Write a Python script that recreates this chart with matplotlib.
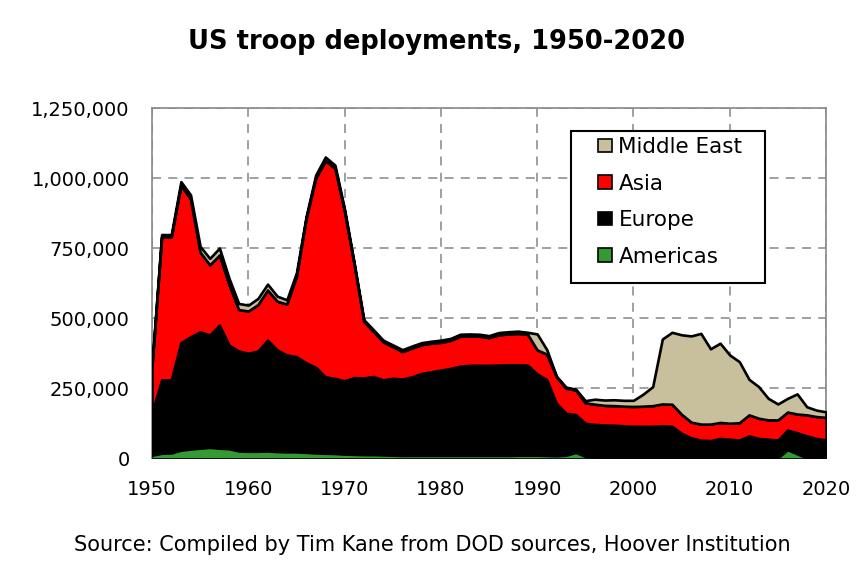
import numpy as np
import matplotlib
matplotlib.use('Agg')
import matplotlib.pyplot as plt
from matplotlib.patches import Rectangle

years = list(range(1950, 2021))

# troops, thousands
americas = [10, 17, 18, 28, 32, 35, 38, 35, 33, 25,
            24, 24, 25, 23, 22, 22, 20, 18, 17, 16,
            14, 13, 12, 12, 11, 10, 9, 9, 9, 9,
            9, 9, 9, 9, 9, 9, 9, 9, 10, 10,
            10, 9, 8, 10, 20, 6, 3, 2, 2, 2,
            2, 2, 2, 2, 2, 2, 2, 2, 2, 2,
            2, 2, 2, 2, 2, 1, 30, 15, 1, 1,
            1]
europe = [152, 262, 261, 384, 401, 416, 401, 440, 370, 357,
          350, 358, 396, 363, 346, 340, 320, 306, 273, 268,
          262, 274, 274, 279, 268, 275, 273, 281, 293, 299,
          305, 311, 319, 322, 322, 322, 323, 324, 323, 322,
          290, 271, 187, 150, 135, 118, 117, 116, 115, 113,
          111, 111, 111, 113, 111, 86, 70, 62, 60, 68,
          65, 62, 77, 68, 65, 63, 70, 75, 78, 69,
          63]
asia = [168, 511, 511, 563, 492, 284, 251, 250, 217, 148,
        151, 166, 179, 174, 182, 288, 515, 676, 772, 751,
        604, 403, 202, 161, 136, 113, 98, 103, 103, 102,
        99, 100, 107, 105, 104, 99, 108, 110, 112, 110,
        86, 91, 95, 89, 88, 73, 72, 70, 70, 70,
        71, 72, 74, 78, 79, 68, 56, 57, 59, 57,
        57, 62, 75, 72, 69, 72, 64, 67, 75, 78,
        81]
middle_east = [5, 8, 8, 12, 15, 21, 23, 25, 22, 22,
               21, 22, 21, 18, 15, 12, 7, 11, 13, 11,
               8, 6, 6, 6, 6, 6, 7, 7, 7, 7,
               8, 7, 7, 7, 7, 7, 8, 8, 8, 7,
               57, 16, 2, 4, 3, 8, 18, 19, 21, 21,
               22, 43, 68, 232, 257, 284, 308, 324, 269, 283,
               244, 218, 127, 113, 77, 57, 49, 72, 29, 23,
               20]

labels = ['Americas', 'Europe', 'Asia', 'Middle East']
colors = ['#349a34', '#000000', '#ff0000', '#c8bf9d']

plt.rcParams['font.family'] = 'DejaVu Sans'

fig = plt.figure(figsize=(8.64, 5.76), dpi=100)
ax = fig.add_axes([152/864, 1 - 458/576, (826 - 152)/864, (458 - 108)/576])

series = [np.array(s) * 1000 for s in (americas, europe, asia, middle_east)]
polys = ax.stackplot(years, *series, colors=colors, labels=labels,
                     edgecolor='black', linewidth=1.9, zorder=3)
for p in polys:
    p.set_joinstyle('round')
polys[0].set_linewidth(0.6)  # keep the thin green strip visible

ax.set_xlim(1950, 2020)
ax.set_ylim(0, 1250000)
ax.set_xticks(range(1950, 2021, 10))
ax.set_yticks(range(0, 1250001, 250000))
ax.yaxis.set_major_formatter(matplotlib.ticker.FuncFormatter(lambda v, p: f'{int(v):,}'))
ax.tick_params(length=0, labelsize=14)
ax.tick_params(axis='y', pad=16)
ax.tick_params(axis='x', pad=16)

ax.grid(True, color='#999999', linestyle=(0, (5, 4)), linewidth=1.3, zorder=0)
ax.set_axisbelow(True)
for s in ax.spines.values():
    s.set_color('#888888')
    s.set_linewidth(1.2)

# legend box drawn by hand so the padding matches
ax.add_patch(Rectangle((571/864, 1 - 283/576), 194/864, 152/576, transform=fig.transFigure,
                       facecolor='white', edgecolor='black', linewidth=1.5,
                       clip_on=False, zorder=5))
handles, labs = ax.get_legend_handles_labels()
leg = ax.legend(handles[::-1], labs[::-1], loc='upper left',
                bbox_to_anchor=(598/864, 1 - 137/576), bbox_transform=fig.transFigure,
                borderaxespad=0, borderpad=0, fontsize=15.5, handlelength=0.65,
                handleheight=0.6, handletextpad=0.3, labelspacing=0.77,
                frameon=False)
leg.set_zorder(6)
for h in leg.legend_handles:
    h.set_linewidth(1.2)
    h.set_edgecolor('black')

fig.text(0.505, 1 - 42/576, 'US troop deployments, 1950-2020', ha='center', va='center',
         fontsize=18.5, fontweight='bold')
fig.text(0.5, 1 - 545/576, 'Source: Compiled by Tim Kane from DOD sources, Hoover Institution',
         ha='center', va='center', fontsize=15)

fig.savefig('out.png', dpi=100)
